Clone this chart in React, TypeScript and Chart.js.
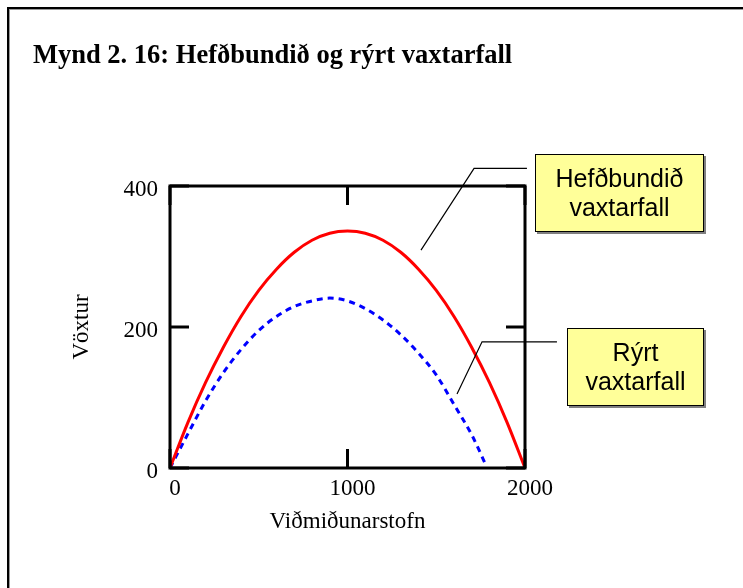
import React, { useEffect, useRef } from "react";
import { Chart, registerables } from "chart.js";

Chart.register(...registerables);

const TITLE = "Mynd 2. 16: Hefðbundið og rýrt vaxtarfall";
const X_TITLE = "Viðmiðunarstofn";
const Y_TITLE = "Vöxtur";
const X_TICKS = [0, 1000, 2000];
const Y_TICKS = [0, 200, 400];

// Hefðbundið vaxtarfall (red, solid)
const redX = [0, 100, 200, 300, 400, 500, 600, 700, 800, 900, 1000, 1100, 1200, 1300, 1400, 1500, 1600, 1700, 1800, 1900, 2000];
const redY = [0, 64, 121, 171, 215, 252, 282, 306, 323, 333, 336, 333, 323, 306, 282, 252, 215, 171, 121, 64, 0];

// Rýrt vaxtarfall (blue, dashed)
const blueX = [0, 100, 200, 300, 400, 500, 600, 700, 800, 900, 1000, 1100, 1200, 1300, 1400, 1500, 1600, 1700, 1780];
const blueY = [0, 48, 95, 135, 168, 195, 215, 229, 237, 241, 237, 226, 210, 189, 163, 132, 90, 47, 4];

const LABEL_1 = ["Hefðbundið", "vaxtarfall"];
const LABEL_2 = ["Rýrt", "vaxtarfall"];

const serif = "'Liberation Serif', 'Times New Roman', serif";
const sans = "'Liberation Sans', Arial, sans-serif";

const framePlugin = {
  id: "framePlugin",
  afterDraw(chart: any) {
    const { ctx, chartArea } = chart;
    const xs = chart.scales.x;
    const ys = chart.scales.y;
    const { left, right, top, bottom } = chartArea;
    ctx.save();
    ctx.strokeStyle = "#000";
    ctx.lineWidth = 3;
    ctx.strokeRect(left, top, right - left, bottom - top);
    const tl = 19;
    ctx.beginPath();
    X_TICKS.forEach((v) => {
      const px = xs.getPixelForValue(v);
      ctx.moveTo(px, bottom);
      ctx.lineTo(px, bottom - tl);
      ctx.moveTo(px, top);
      ctx.lineTo(px, top + tl);
    });
    Y_TICKS.forEach((v) => {
      const py = ys.getPixelForValue(v);
      ctx.moveTo(left, py);
      ctx.lineTo(left + tl, py);
      ctx.moveTo(right, py);
      ctx.lineTo(right - tl, py);
    });
    ctx.stroke();

    // leader lines
    ctx.lineWidth = 1.2;
    ctx.beginPath();
    ctx.moveTo(xs.getPixelForValue(2011), ys.getPixelForValue(425));
    ctx.lineTo(xs.getPixelForValue(1713), ys.getPixelForValue(425));
    ctx.lineTo(xs.getPixelForValue(1414), ys.getPixelForValue(309));
    ctx.moveTo(xs.getPixelForValue(2180), ys.getPixelForValue(179));
    ctx.lineTo(xs.getPixelForValue(1758), ys.getPixelForValue(179));
    ctx.lineTo(xs.getPixelForValue(1617), ys.getPixelForValue(105));
    ctx.stroke();
    ctx.restore();
  },
};

export default function App() {
  const ref = useRef<HTMLCanvasElement | null>(null);

  useEffect(() => {
    document.body.style.margin = "0";
    if (!ref.current) return;
    const chart = new Chart(ref.current, {
      type: "line",
      data: {
        datasets: [
          {
            label: "Hefðbundið vaxtarfall",
            data: redX.map((x, i) => ({ x, y: redY[i] })),
            borderColor: "#ff0000",
            borderWidth: 3,
            pointRadius: 0,
            cubicInterpolationMode: "monotone",
            fill: false,
          },
          {
            label: "Rýrt vaxtarfall",
            data: blueX.map((x, i) => ({ x, y: blueY[i] })),
            borderColor: "#0000ff",
            borderWidth: 3,
            borderDash: [6, 5],
            pointRadius: 0,
            cubicInterpolationMode: "monotone",
            fill: false,
          },
        ],
      },
      options: {
        animation: false,
        responsive: false,
        maintainAspectRatio: false,
        layout: { padding: { left: 0, right: 218, top: 186, bottom: 0 } },
        plugins: { legend: { display: false }, tooltip: { enabled: false } },
        scales: {
          x: {
            type: "linear",
            min: 0,
            max: 2000,
            afterFit: (s: any) => {
              s.height = 120;
            },
            afterBuildTicks: (s: any) => {
              s.ticks = X_TICKS.map((v) => ({ value: v }));
            },
            grid: { display: false, drawTicks: false },
            border: { display: false },
            ticks: {
              padding: 7,
              labelOffset: 5,
              color: "#000",
              font: { family: serif, size: 23 },
              callback: (v: any) => String(v),
            },
            title: {
              display: true,
              text: X_TITLE,
              color: "#000",
              font: { family: serif, size: 23 },
              padding: { top: 0, bottom: 52 },
            },
          },
          y: {
            type: "linear",
            min: 0,
            max: 400,
            afterFit: (s: any) => {
              s.width = 170;
            },
            afterBuildTicks: (s: any) => {
              s.ticks = Y_TICKS.map((v) => ({ value: v }));
            },
            grid: { display: false, drawTicks: false },
            border: { display: false },
            ticks: {
              padding: 12,
              labelOffset: 4,
              color: "#000",
              font: { family: serif, size: 23 },
              callback: (v: any) => String(v),
            },
            title: {
              display: true,
              text: Y_TITLE,
              color: "#000",
              font: { family: serif, size: 23 },
              padding: { top: 68, bottom: 0 },
            },
          },
        },
      },
      plugins: [framePlugin],
    } as any);
    return () => chart.destroy();
  }, []);

  const boxStyle = (left: number, top: number, w: number, h: number): React.CSSProperties => ({
    position: "absolute",
    left,
    top,
    width: w,
    height: h,
    boxSizing: "border-box",
    background: "#ffff99",
    border: "1px solid #000",
    boxShadow: "2px 2px 0 #808080",
    display: "flex",
    flexDirection: "column",
    alignItems: "center",
    justifyContent: "center",
    fontFamily: sans,
    fontSize: 25,
    lineHeight: "29px",
    color: "#000",
  });

  return (
    <div style={{ position: "relative", width: 743, height: 588, overflow: "hidden", background: "#fff" }}>
      <div
        style={{
          position: "absolute",
          left: 7,
          top: 7,
          width: 900,
          height: 800,
          borderTop: "2px solid #000",
          borderLeft: "2px solid #000",
          boxShadow: "1px 1px 0 #999 inset",
        }}
      />
      <canvas ref={ref} width={743} height={588} style={{ position: "absolute", left: 0, top: 0 }} />
      <div
        style={{
          position: "absolute",
          left: 33,
          top: 41,
          fontFamily: serif,
          fontWeight: "bold",
          fontSize: 26.5,
          lineHeight: "26px",
          whiteSpace: "nowrap",
          color: "#000",
        }}
      >
        {TITLE}
      </div>
      <div style={boxStyle(535, 154, 169, 78)}>
        {LABEL_1.map((t) => (
          <div key={t}>{t}</div>
        ))}
      </div>
      <div style={boxStyle(567, 328, 137, 78)}>
        {LABEL_2.map((t) => (
          <div key={t}>{t}</div>
        ))}
      </div>
    </div>
  );
}
